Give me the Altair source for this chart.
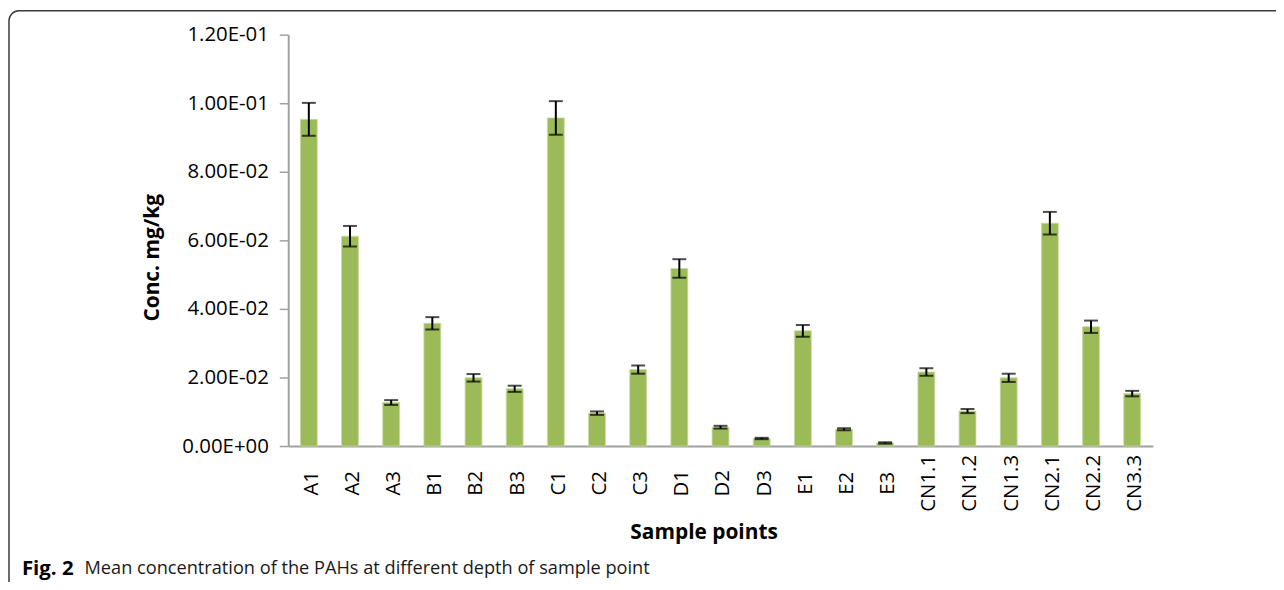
import altair as alt
import pandas as pd

# ---- data ----
samples = ["A1", "A2", "A3", "B1", "B2", "B3", "C1", "C2", "C3", "D1", "D2", "D3",
           "E1", "E2", "E3", "CN1.1", "CN1.2", "CN1.3", "CN2.1", "CN2.2", "CN3.3"]
means = [0.0953, 0.0612, 0.0127, 0.0358, 0.0199, 0.0167, 0.0957, 0.0096, 0.0223,
         0.0518, 0.0055, 0.0022, 0.0336, 0.0049, 0.0009, 0.0216, 0.0102, 0.0199,
         0.0650, 0.0348, 0.0153]
errors = [0.0048, 0.0030, 0.0007, 0.0018, 0.0011, 0.0009, 0.0049, 0.0005, 0.0012,
          0.0027, 0.0004, 0.0002, 0.0017, 0.0003, 0.0002, 0.0011, 0.0006, 0.0012,
          0.0033, 0.0018, 0.0008]
y_tick_values = [0, 0.02, 0.04, 0.06, 0.08, 0.10, 0.12]
y_tick_labels = ["0.00E+00", "2.00E-02", "4.00E-02", "6.00E-02",
                 "8.00E-02", "1.00E-01", "1.20E-01"]
x_title = "Sample points"
y_title = "Conc. mg/kg"
caption_bold = "Fig. 2"
caption_text = "Mean concentration of the PAHs at different depth of sample point"

df = pd.DataFrame({"sample": samples, "mean": means, "err": errors})
df["lo"] = df["mean"] - df["err"]
df["hi"] = df["mean"] + df["err"]

FONT = "Open Sans"
W, H = 870, 414
label_expr = "[" + ",".join(f"'{s}'" for s in y_tick_labels) + "][round(datum.value / 0.02)]"

x_enc = alt.X(
    "sample:N", sort=samples,
    scale=alt.Scale(paddingInner=0.59, paddingOuter=0.295),
    axis=alt.Axis(
        title=x_title, labelAngle=-90, labelAlign="center", labelBaseline="middle",
        labelPadding=37, ticks=False, tickSize=0, labelFont=FONT, labelFontSize=20.5,
        labelColor="#000000", labelOffset=3, titleFont=FONT, titleFontSize=21,
        titleFontWeight="bold", titleColor="#000000", titleX=418, titleY=87,
        titleAlign="center", titleBaseline="middle", domainColor="#a0a0a0",
        domainWidth=2, grid=False,
    ),
)
y_scale = alt.Scale(domain=[0, 0.12], nice=False, zero=True)

bars = alt.Chart(df).mark_bar(color="#9BBB59", stroke="#c9dba3", strokeWidth=0.8).encode(
    x=x_enc,
    y=alt.Y(
        "mean:Q", scale=y_scale,
        axis=alt.Axis(
            title=y_title, values=y_tick_values, labelExpr=label_expr,
            labelFont=FONT, labelFontSize=20.5, labelColor="#000000", labelPadding=11,
            tickSize=9, tickColor="#a0a0a0", tickWidth=1.5, domainColor="#a0a0a0",
            domainWidth=2, grid=False, titleFont=FONT, titleFontSize=21,
            titleFontWeight="bold", titleColor="#000000", titleAngle=-90,
            titleX=-137, titleY=224, titleAlign="center", titleBaseline="middle",
        ),
    ),
)

rules = alt.Chart(df).mark_rule(color="#000000", strokeWidth=2).encode(
    x=alt.X("sample:N", sort=samples), y="lo:Q", y2="hi:Q"
)
cap_lo = alt.Chart(df).mark_tick(color="#000000", thickness=2, size=14, orient="horizontal").encode(
    x=alt.X("sample:N", sort=samples), y="lo:Q"
)
cap_hi = alt.Chart(df).mark_tick(color="#000000", thickness=2, size=14, orient="horizontal").encode(
    x=alt.X("sample:N", sort=samples), y="hi:Q"
)

one = pd.DataFrame({"k": [0]})
frame = alt.Chart(one).mark_rect(
    fill="transparent", stroke="#3a3a3a", strokeWidth=1.5, cornerRadius=10
).encode(
    x=alt.value(-281), x2=alt.value(1010), y=alt.value(-24), y2=alt.value(562)
)
cap1 = alt.Chart(one).mark_text(
    align="left", baseline="middle", font=FONT, fontSize=20.5, fontWeight="bold", color="#000000"
).encode(x=alt.value(-268), y=alt.value(538), text=alt.value(caption_bold))
cap2 = alt.Chart(one).mark_text(
    align="left", baseline="middle", font=FONT, fontSize=18.3, color="#1a1a1a"
).encode(x=alt.value(-205), y=alt.value(538), text=alt.value(caption_text))

chart = alt.layer(frame, bars, rules, cap_lo, cap_hi, cap1, cap2).properties(
    width=W, height=H,
    background="#ffffff",
    autosize=alt.AutoSizeParams(type="none"),
    padding={"left": 282, "top": 25, "right": 124, "bottom": 135},
).configure_view(stroke="transparent", strokeWidth=0)

chart.save("out.html", embed_options={"renderer": "svg", "actions": False})
